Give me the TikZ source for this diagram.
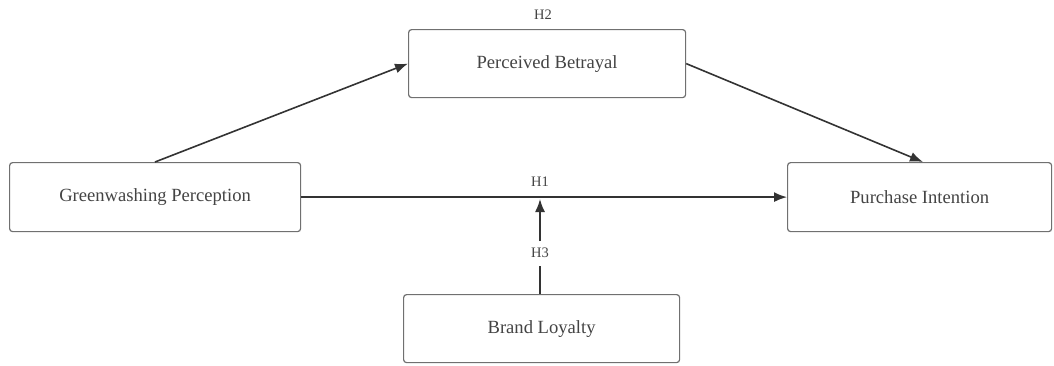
\documentclass[tikz,border=0pt]{standalone}
\usepackage{fontspec}
\setmainfont{Liberation Serif}
\usetikzlibrary{arrows.meta}
\definecolor{boxline}{HTML}{707070}
\definecolor{ink}{HTML}{333333}
\definecolor{txt}{HTML}{444444}
\tikzset{
  construct/.style={draw=boxline, line width=1.2pt, rounded corners=3pt, fill=white,
    text=txt, font=\fontsize{18.6}{21}\selectfont, anchor=north west, inner sep=0pt},
  link/.style={draw=ink, line width=1.6pt, -{Latex[length=13pt,width=10pt]}},
  hyp/.style={text=txt, font=\fontsize{14.5}{16}\selectfont, inner sep=1pt}
}
\begin{document}
\begin{tikzpicture}[x=1pt,y=-1pt]
\useasboundingbox (0,0) rectangle (1054,365);
% constructs
\node[construct, minimum width=277pt, minimum height=68pt] (pb) at (408,29) {Perceived Betrayal};
\node[construct, minimum width=291pt, minimum height=69pt] (gp) at (9,162) {Greenwashing Perception};
\node[construct, minimum width=264pt, minimum height=69pt] (pi) at (787,162) {Purchase Intention};
\node[construct, minimum width=276pt, minimum height=68pt] (bl) at (403,294) {Brand Loyalty};
% moderation target on the direct path
\coordinate (m) at (540,199);
% paths
\draw[link] (gp.north west) ++(146,0) coordinate (gpt) -- (pb.west);
\draw[link] (pb.east) -- ([xshift=136pt]pi.north west);
\draw[link] (gp.east) -- (pi.west);
\draw[draw=ink, line width=1.6pt] (bl.north west) ++(137,0) coordinate (blt) -- (540,266);
\draw[link] (540,241) -- (m);
% hypothesis labels
\node[hyp] (h2) at (543,15) {H2};
\node[hyp] (h1) at (540,182) {H1};
\node[hyp] (h3) at (540,253) {H3};
\end{tikzpicture}
\end{document}
